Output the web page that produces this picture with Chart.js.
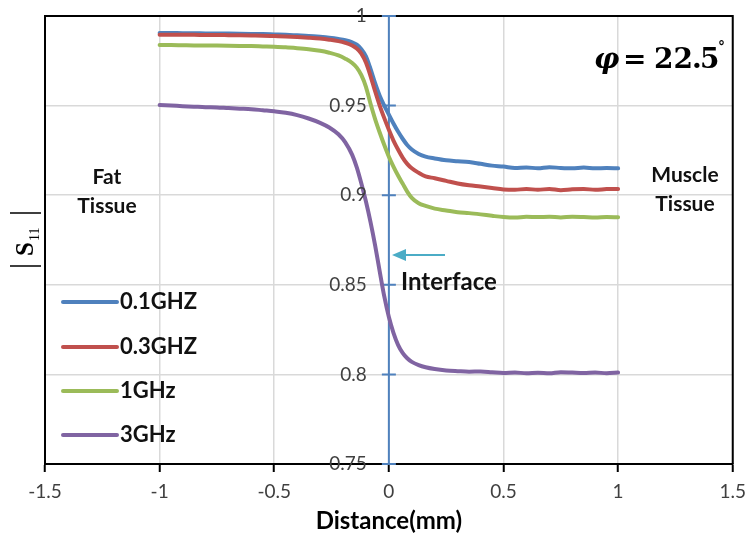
<!DOCTYPE html>
<html>
<head>
<meta charset="utf-8">
<script src="https://cdn.jsdelivr.net/npm/chart.js@4.4.1/dist/chart.umd.min.js"></script>
<style>
  html, body { margin: 0; padding: 0; background: #ffffff; }
  #wrap { width: 754px; height: 538px; }
</style>
</head>
<body>
<div id="wrap"><canvas id="c" width="754" height="538"></canvas></div>
<script>
// Distance from the fat/muscle interface (mm)
const distance = [
  -1, -0.95, -0.9, -0.85, -0.8, -0.75, -0.7, -0.65, -0.6, -0.55, -0.5, -0.45, -0.4, -0.35, -0.3,
  -0.26, -0.22, -0.19, -0.16, -0.14, -0.12, -0.1, -0.08, -0.06, -0.04, -0.02,
  0, 0.02, 0.04, 0.06, 0.08, 0.1,
  0.13, 0.16, 0.2, 0.25,
  0.3, 0.35, 0.4, 0.45, 0.5, 0.55, 0.6, 0.65, 0.7, 0.75, 0.8, 0.85, 0.9, 0.95, 1
];

// |S11| magnitude per frequency
const s11_01GHz = [
  0.9905, 0.9905, 0.9904, 0.9904, 0.9903, 0.9903, 0.9902, 0.9901, 0.9900, 0.9899, 0.9897, 0.9895, 0.9892, 0.9889, 0.9884,
  0.9879, 0.9872, 0.9865, 0.9853, 0.9840, 0.9815, 0.9775, 0.9705, 0.9625, 0.9555, 0.9500,
  0.9450, 0.9400, 0.9355, 0.9315, 0.9280, 0.9255,
  0.9230, 0.9215, 0.9205, 0.9195,
  0.9190, 0.9185, 0.9175, 0.9165, 0.9160, 0.9152, 0.9155, 0.9150, 0.9156, 0.9152, 0.9150, 0.9154, 0.9150, 0.9152, 0.9150
];
const s11_03GHz = [
  0.9896, 0.9896, 0.9895, 0.9895, 0.9894, 0.9894, 0.9893, 0.9892, 0.9891, 0.9890, 0.9888, 0.9886, 0.9883, 0.9879, 0.9874,
  0.9868, 0.9860, 0.9850, 0.9835, 0.9818, 0.9790, 0.9740, 0.9665, 0.9580, 0.9500, 0.9430,
  0.9365, 0.9305, 0.9255, 0.9210, 0.9175, 0.9150,
  0.9125, 0.9105, 0.9095, 0.9080,
  0.9065, 0.9055, 0.9048, 0.9040, 0.9032, 0.9030, 0.9035, 0.9030, 0.9035, 0.9028, 0.9033, 0.9035, 0.9030, 0.9034, 0.9035
];
const s11_1GHz = [
  0.9838, 0.9838, 0.9837, 0.9836, 0.9836, 0.9835, 0.9834, 0.9833, 0.9832, 0.9830, 0.9828, 0.9825, 0.9820, 0.9814, 0.9806,
  0.9795, 0.9780, 0.9762, 0.9738, 0.9712, 0.9670, 0.9605, 0.9510, 0.9425, 0.9350, 0.9280,
  0.9215, 0.9160, 0.9110, 0.9065, 0.9020, 0.8985,
  0.8955, 0.8940, 0.8925, 0.8915,
  0.8905, 0.8900, 0.8893, 0.8885, 0.8878, 0.8875, 0.8880, 0.8878, 0.8880, 0.8876, 0.8880, 0.8878, 0.8875, 0.8878, 0.8877
];
const s11_3GHz = [
  0.9503, 0.9500, 0.9497, 0.9494, 0.9491, 0.9490, 0.9486, 0.9483, 0.9480, 0.9474, 0.9468, 0.9460, 0.9447, 0.9428, 0.9404,
  0.9378, 0.9340, 0.9295, 0.9225, 0.9155, 0.9065, 0.8965, 0.8850, 0.8720, 0.8575, 0.8435,
  0.8320, 0.8232, 0.8165, 0.8120, 0.8090, 0.8070,
  0.8052, 0.8040, 0.8030, 0.8022,
  0.8018, 0.8015, 0.8016, 0.8012, 0.8008, 0.8010, 0.8007, 0.8009, 0.8006, 0.8012, 0.8010, 0.8008, 0.8010, 0.8007, 0.8010
];

const seriesLabels = ['0.1GHZ', '0.3GHZ', '1GHz', '3GHz'];
const seriesValues = [s11_01GHz, s11_03GHz, s11_1GHz, s11_3GHz];
const seriesColors = ['#4f81bd', '#c0504d', '#9bbb59', '#8064a2'];

const xTicks = [-1.5, -1, -0.5, 0, 0.5, 1, 1.5];
const yTicks = [0.75, 0.8, 0.85, 0.9, 0.95, 1];
const yTickLabels = ['0.75', '0.8', '0.85', '0.9', '0.95', '1'];

const FONT = 'Lato, "Open Sans", sans-serif';

const datasets = seriesValues.map((vals, i) => ({
  label: seriesLabels[i],
  data: distance.map((d, k) => ({ x: d, y: vals[k] })),
  borderColor: seriesColors[i],
  backgroundColor: seriesColors[i],
  borderWidth: 4,
  pointRadius: 0,
  cubicInterpolationMode: 'monotone',
  borderCapStyle: 'round',
  borderJoinStyle: 'round',
  fill: false,
  order: seriesValues.length - 1 - i
}));

// Frame, interface axis with crossing ticks, and its value labels
const axisDecor = {
  id: 'axisDecor',
  beforeDatasetsDraw(chart) {
    const { ctx, chartArea: a, scales: { x, y } } = chart;
    ctx.save();
    ctx.strokeStyle = '#000';
    ctx.lineWidth = 2;
    ctx.beginPath();
    ctx.moveTo(a.left - 1, a.top);
    ctx.lineTo(a.right, a.top);
    ctx.lineTo(a.right, a.bottom);
    ctx.stroke();

    const x0 = x.getPixelForValue(0);
    ctx.strokeStyle = '#4f81bd';
    ctx.lineWidth = 2;
    ctx.beginPath();
    ctx.moveTo(x0, a.top);
    ctx.lineTo(x0, a.bottom);
    yTicks.forEach(v => {
      const py = y.getPixelForValue(v);
      ctx.moveTo(x0 - 7, py);
      ctx.lineTo(x0 + 7, py);
    });
    ctx.stroke();
    ctx.restore();
  },
  afterDatasetsDraw(chart) {
    const { ctx, scales: { x, y } } = chart;
    const x0 = x.getPixelForValue(0);
    ctx.save();
    ctx.fillStyle = '#404040';
    ctx.font = '19px ' + FONT;
    ctx.textAlign = 'right';
    ctx.textBaseline = 'middle';
    yTicks.forEach((v, i) => {
      ctx.fillText(yTickLabels[i], x0 - 22, y.getPixelForValue(v));
    });
    ctx.restore();
  }
};

// Legend, tissue notes, interface arrow, angle and |S11| axis title
const notes = {
  id: 'notes',
  afterDraw(chart) {
    const { ctx, chartArea: a } = chart;
    ctx.save();

    // legend inside the plot, one row per series
    ctx.font = 'bold 22px ' + FONT;
    ctx.textBaseline = 'middle';
    ctx.textAlign = 'left';
    const rows = [302, 347, 391, 435];
    seriesLabels.forEach((lab, i) => {
      ctx.strokeStyle = seriesColors[i];
      ctx.lineWidth = 4;
      ctx.lineCap = 'round';
      ctx.beginPath();
      ctx.moveTo(a.left + 18, rows[i]);
      ctx.lineTo(a.left + 72, rows[i]);
      ctx.stroke();
      ctx.fillStyle = '#111';
      ctx.fillText(lab, a.left + 75, rows[i]);
    });

    // tissue labels
    ctx.textAlign = 'center';
    ctx.font = 'bold 21px ' + FONT;
    ctx.fillStyle = '#111';
    ctx.fillText('Fat', 107, 177);
    ctx.fillText('Tissue', 107, 206);
    ctx.fillText('Muscle', 685, 175);
    ctx.fillText('Tissue', 685, 204);

    // interface arrow and label
    ctx.strokeStyle = '#4bacc6';
    ctx.fillStyle = '#4bacc6';
    ctx.lineWidth = 2;
    ctx.lineCap = 'butt';
    ctx.beginPath();
    ctx.moveTo(445, 255);
    ctx.lineTo(402, 255);
    ctx.stroke();
    ctx.beginPath();
    ctx.moveTo(392, 255);
    ctx.lineTo(406, 249);
    ctx.lineTo(406, 261);
    ctx.closePath();
    ctx.fill();

    ctx.fillStyle = '#111';
    ctx.textAlign = 'left';
    ctx.font = 'bold 24px ' + FONT;
    ctx.fillText('Interface', 401, 282);

    // incidence angle
    ctx.fillStyle = '#000';
    ctx.textBaseline = 'alphabetic';
    ctx.font = 'italic bold 28px "DejaVu Serif", serif';
    ctx.fillText('\u03C6', 594, 68);
    ctx.font = 'bold 28px "DejaVu Serif", serif';
    ctx.fillText('=', 623, 68);
    ctx.fillText('22', 654, 68);
    ctx.fillText('.', 692, 68);
    ctx.fillText('5', 700, 68);
    ctx.font = 'bold 14px "DejaVu Serif", serif';
    ctx.fillText('\u00B0', 718, 52);

    // vertical axis title |S11|
    ctx.translate(33, 266);
    ctx.rotate(-Math.PI / 2);
    ctx.strokeStyle = '#000';
    ctx.lineWidth = 1.5;
    ctx.beginPath();
    ctx.moveTo(0, -23); ctx.lineTo(0, 8);
    ctx.moveTo(53, -23); ctx.lineTo(53, 8);
    ctx.stroke();
    ctx.fillStyle = '#000';
    ctx.textAlign = 'left';
    ctx.font = 'bold 25px "Liberation Serif", serif';
    ctx.fillText('S', 10, 0);
    ctx.font = '14px "Liberation Serif", serif';
    ctx.fillText('11', 25, 6);

    ctx.restore();
  }
};

new Chart(document.getElementById('c'), {
  type: 'line',
  data: { datasets },
  options: {
    responsive: false,
    animation: false,
    devicePixelRatio: 1,
    layout: { padding: { left: 0, top: 16, right: 20, bottom: 0 } },
    plugins: { legend: { display: false }, tooltip: { enabled: false } },
    scales: {
      x: {
        type: 'linear',
        min: -1.5,
        max: 1.5,
        afterBuildTicks: s => { s.ticks = xTicks.map(v => ({ value: v })); },
        afterFit: s => { s.height = 74; },
        ticks: {
          color: '#404040',
          font: { family: FONT, size: 19 },
          padding: 8,
          maxRotation: 0,
          callback: v => String(v)
        },
        grid: { color: '#d9d9d9', lineWidth: 1.5, tickColor: '#000', tickLength: 8, tickWidth: 2 },
        border: { color: '#000', width: 2 },
        title: {
          display: true,
          text: 'Distance(mm)',
          color: '#000',
          font: { family: FONT, size: 24, weight: 'bold' },
          padding: { top: 0, bottom: 2 }
        }
      },
      y: {
        type: 'linear',
        min: 0.75,
        max: 1,
        afterBuildTicks: s => { s.ticks = yTicks.map(v => ({ value: v })); },
        afterFit: s => { s.width = 45; },
        ticks: { display: false },
        grid: { color: '#d9d9d9', lineWidth: 1.5, drawTicks: false },
        border: { color: '#000', width: 2 }
      }
    }
  },
  plugins: [axisDecor, notes]
});
</script>
</body>
</html>
